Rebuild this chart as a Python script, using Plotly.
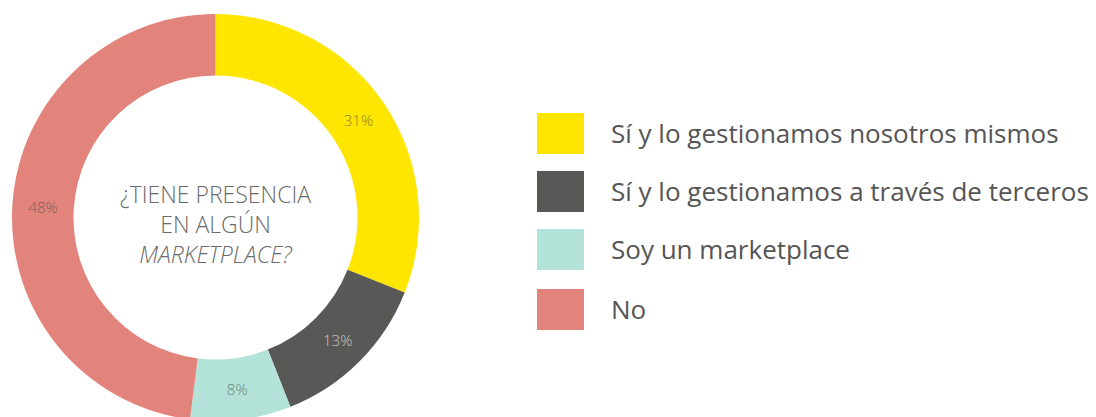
import plotly.graph_objects as go

categories = ["Sí y lo gestionamos nosotros mismos",
              "Sí y lo gestionamos a través de terceros",
              "Soy un marketplace",
              "No"]
values = [31, 13, 8, 48]
colors = ["#FFE600", "#585856", "#B3E3D8", "#E2837C"]
label_colors = ["#8a7f2c", "#c8c8c8", "#6c8780", "#85605c"]

W, H = 1096, 417
OFF = 8  # page body margin offset

cx, cy, R = 215.5 - OFF, 217.5 - OFF, 203.5

fig = go.Figure()
fig.add_trace(go.Pie(
    labels=categories,
    values=values,
    marker=dict(colors=colors, line=dict(width=0)),
    hole=142 / R,
    sort=False,
    direction="clockwise",
    rotation=0,
    textinfo="percent",
    texttemplate="%{percent:.0%}",
    textposition="inside",
    insidetextorientation="horizontal",
    textfont=dict(family="Open Sans", size=15, color=label_colors, weight=300),
    domain=dict(x=[(cx - R) / W, (cx + R) / W], y=[1 - (cy + R) / H, 1 - (cy - R) / H]),
    showlegend=False,
    hoverinfo="label+percent",
))

fig.add_annotation(
    x=cx / W, y=1 - (224 - OFF) / H, xref="paper", yref="paper",
    xanchor="center", yanchor="middle",
    text="¿TIENE PRESENCIA<br>EN ALGÚN<br><i>MARKETPLACE?</i>",
    showarrow=False, align="center",
    font=dict(family="Open Sans", size=23, color="#6a6a6a", weight=300),
)

# custom legend
row_tops = [113, 171, 229, 289]
for cat, col, top in zip(categories, colors, row_tops):
    t = top - OFF
    fig.add_shape(type="rect", xref="paper", yref="paper",
                  x0=(537 - OFF) / W, x1=(584 - OFF) / W, y0=1 - (t + 41) / H, y1=1 - t / H,
                  fillcolor=col, line=dict(width=0))
    fig.add_annotation(x=(609 - OFF) / W, y=1 - (t + 20) / H, xref="paper", yref="paper",
                       text=cat, showarrow=False, xanchor="left", yanchor="middle",
                       font=dict(family="Open Sans", size=26, color="#555555"))

fig.update_layout(
    width=W, height=H,
    margin=dict(l=0, r=0, t=0, b=0),
    paper_bgcolor="white", plot_bgcolor="white",
)

fig.write_html("out.html")
